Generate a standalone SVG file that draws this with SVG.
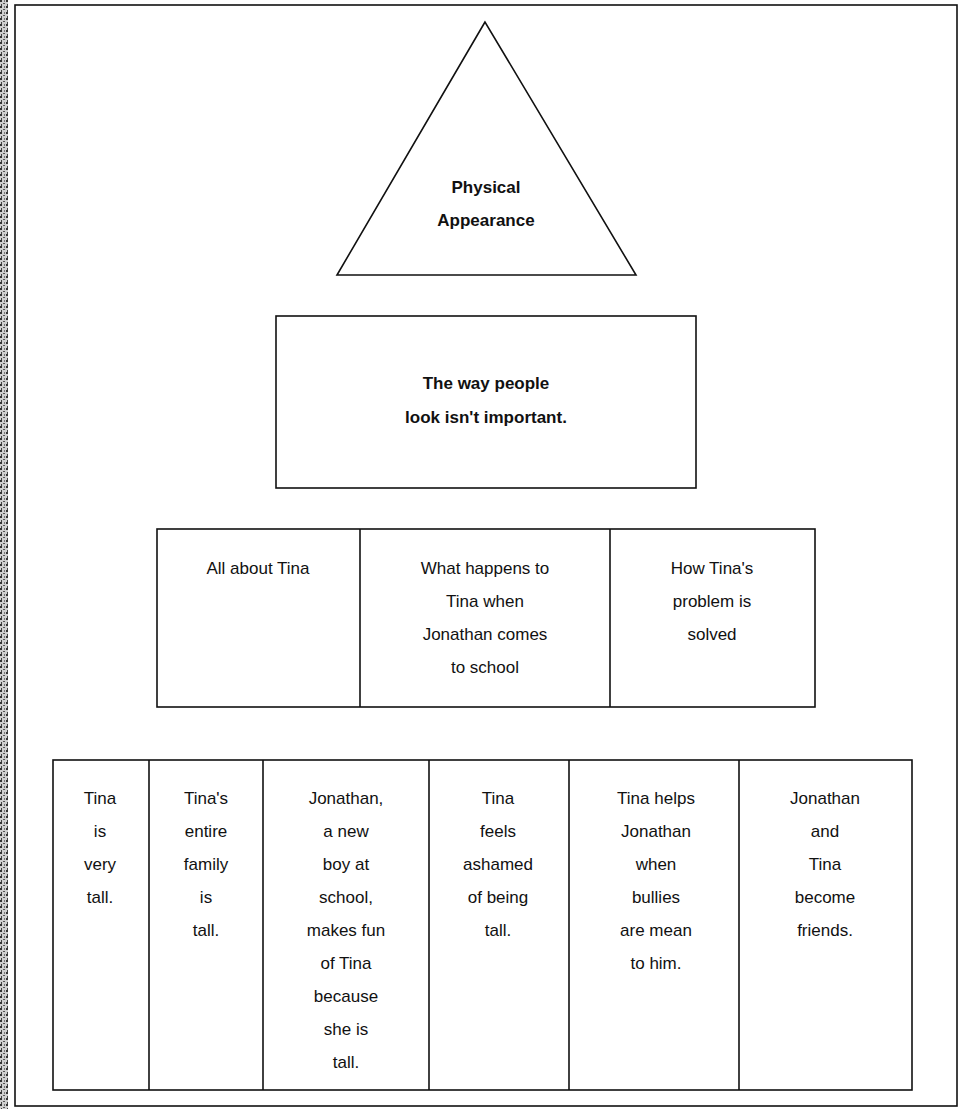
<svg xmlns="http://www.w3.org/2000/svg" width="961" height="1109" viewBox="0 0 961 1109">
<defs>
<pattern id="grit" width="6" height="6" patternUnits="userSpaceOnUse">
<rect width="6" height="6" fill="#cfcfcf"/>
<rect x="0" y="0" width="2" height="2" fill="#333"/>
<rect x="3" y="3" width="2" height="1" fill="#555"/>
<rect x="4" y="0" width="1" height="2" fill="#777"/>
<rect x="1" y="4" width="1" height="2" fill="#444"/>
</pattern>
</defs>
<style>
.ln{fill:none;stroke:#111;stroke-width:1.6}
.t{font-family:"Liberation Sans",Arial,sans-serif;font-size:17px;fill:#111;text-anchor:middle}
.b{font-weight:bold}
</style>
<rect width="961" height="1109" fill="#fff"/>
<rect x="0" y="0" width="8" height="1109" fill="url(#grit)"/>
<rect id="frame" class="ln" x="15" y="5" width="942" height="1101" stroke-width="2"/>
<g id="connectors"/>
<g id="triangle">
<polygon class="ln" points="485,22 337,275 636,275"/>
<text class="t b" font-size="16" x="486" y="193">Physical</text>
<text class="t b" font-size="16" x="486" y="226">Appearance</text>
</g>
<g id="theme">
<rect class="ln" x="276" y="316" width="420" height="172"/>
<text class="t b" x="486" y="389">The way people</text>
<text class="t b" x="486" y="423">look isn't important.</text>
</g>
<g id="row3">
<rect class="ln" x="157" y="529" width="658" height="178"/>
<line class="ln" x1="360" y1="529" x2="360" y2="707"/>
<line class="ln" x1="610" y1="529" x2="610" y2="707"/>
</g>
<g id="col-tina"><text class="t" x="258" y="574">All about Tina</text></g>
<g id="col-happens">
<text class="t" x="485" y="574">What happens to</text>
<text class="t" x="485" y="607">Tina when</text>
<text class="t" x="485" y="640">Jonathan comes</text>
<text class="t" x="485" y="673">to school</text>
</g>
<g id="col-solved">
<text class="t" x="712" y="574">How Tina's</text>
<text class="t" x="712" y="607">problem is</text>
<text class="t" x="712" y="640">solved</text>
</g>
<g id="row4">
<rect class="ln" x="53" y="760" width="859" height="330"/>
<line class="ln" x1="149" y1="760" x2="149" y2="1090"/>
<line class="ln" x1="263" y1="760" x2="263" y2="1090"/>
<line class="ln" x1="429" y1="760" x2="429" y2="1090"/>
<line class="ln" x1="569" y1="760" x2="569" y2="1090"/>
<line class="ln" x1="739" y1="760" x2="739" y2="1090"/>
</g>
<g id="d1">
<text class="t" x="100" y="804">Tina</text>
<text class="t" x="100" y="837">is</text>
<text class="t" x="100" y="870">very</text>
<text class="t" x="100" y="903">tall.</text>
</g>
<g id="d2">
<text class="t" x="206" y="804">Tina's</text>
<text class="t" x="206" y="837">entire</text>
<text class="t" x="206" y="870">family</text>
<text class="t" x="206" y="903">is</text>
<text class="t" x="206" y="936">tall.</text>
</g>
<g id="d3">
<text class="t" x="346" y="804">Jonathan,</text>
<text class="t" x="346" y="837">a new</text>
<text class="t" x="346" y="870">boy at</text>
<text class="t" x="346" y="903">school,</text>
<text class="t" x="346" y="936">makes fun</text>
<text class="t" x="346" y="969">of Tina</text>
<text class="t" x="346" y="1002">because</text>
<text class="t" x="346" y="1035">she is</text>
<text class="t" x="346" y="1068">tall.</text>
</g>
<g id="d4">
<text class="t" x="498" y="804">Tina</text>
<text class="t" x="498" y="837">feels</text>
<text class="t" x="498" y="870">ashamed</text>
<text class="t" x="498" y="903">of being</text>
<text class="t" x="498" y="936">tall.</text>
</g>
<g id="d5">
<text class="t" x="656" y="804">Tina helps</text>
<text class="t" x="656" y="837">Jonathan</text>
<text class="t" x="656" y="870">when</text>
<text class="t" x="656" y="903">bullies</text>
<text class="t" x="656" y="936">are mean</text>
<text class="t" x="656" y="969">to him.</text>
</g>
<g id="d6">
<text class="t" x="825" y="804">Jonathan</text>
<text class="t" x="825" y="837">and</text>
<text class="t" x="825" y="870">Tina</text>
<text class="t" x="825" y="903">become</text>
<text class="t" x="825" y="936">friends.</text>
</g>
</svg>
